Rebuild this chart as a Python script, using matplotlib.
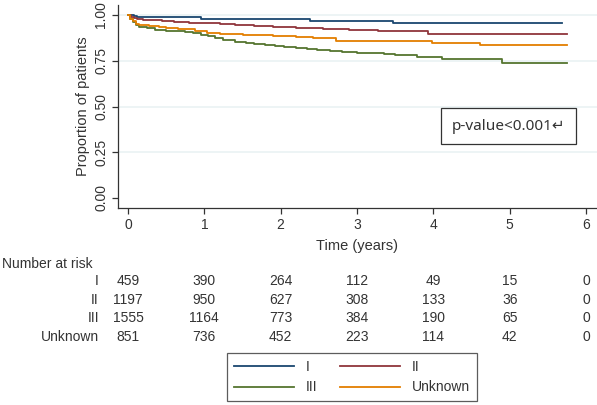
import matplotlib
matplotlib.use("Agg")
import matplotlib.pyplot as plt
import matplotlib.transforms as mtrans

plt.rcParams['font.family'] = ['Liberation Sans', 'DejaVu Sans']

# Kaplan-Meier step curves (time in years, survival)
t_I = [0, 0.08, 0.12, 0.2, 0.95, 1.6, 2.38, 3.47, 5.69]
s_I = [1.0, 0.995, 0.991, 0.989, 0.981, 0.978, 0.969, 0.958, 0.958]

t_II = [0, 0.04, 0.08, 0.12, 0.2, 0.3, 0.45, 0.6, 0.8, 1.0, 1.2, 1.4, 1.65, 1.9, 2.2, 2.55, 2.9, 3.27, 3.93, 5.75]
s_II = [1.0, 0.99, 0.982, 0.977, 0.974, 0.971, 0.967, 0.964, 0.959, 0.955, 0.95, 0.946, 0.941, 0.936, 0.93, 0.923, 0.919, 0.911, 0.896, 0.896]

t_III = [0, 0.03, 0.06, 0.1, 0.15, 0.25, 0.35, 0.5, 0.75, 0.85, 0.95, 1.05, 1.14, 1.25, 1.4, 1.55, 1.65, 1.8, 1.92, 2.05,
         2.2, 2.35, 2.47, 2.65, 2.8, 3.0, 3.17, 3.35, 3.5, 3.78, 4.12, 4.9, 5.75]
s_III = [1.0, 0.98, 0.96, 0.945, 0.935, 0.927, 0.92, 0.915, 0.908, 0.9, 0.892, 0.883, 0.874, 0.864, 0.855, 0.848, 0.842, 0.837, 0.832, 0.826,
         0.82, 0.815, 0.809, 0.804, 0.8, 0.795, 0.79, 0.786, 0.782, 0.772, 0.758, 0.74, 0.74]

t_unk = [0, 0.03, 0.06, 0.1, 0.15, 0.27, 0.4, 0.5, 0.65, 0.88, 1.03, 1.2, 1.5, 1.9, 2.2, 2.42, 2.73, 3.4, 3.98, 4.61, 5.75]
s_unk = [1.0, 0.98, 0.965, 0.952, 0.945, 0.938, 0.933, 0.929, 0.922, 0.913, 0.904, 0.897, 0.891, 0.885, 0.879, 0.872, 0.86, 0.857, 0.849, 0.836, 0.836]

groups = ["I", "II", "III", "Unknown"]
colors = ["#1a476f", "#90353b", "#55752f", "#e37e00"]

risk_times = [0, 1, 2, 3, 4, 5, 6]
risk_I = [459, 390, 264, 112, 49, 15, 0]
risk_II = [1197, 950, 627, 308, 133, 36, 0]
risk_III = [1555, 1164, 773, 384, 190, 65, 0]
risk_unk = [851, 736, 452, 223, 114, 42, 0]

W, H = 597, 405
fig = plt.figure(figsize=(W / 100, H / 100), dpi=100)
ax = fig.add_axes([118 / W, 1 - 208 / H, (W - 118) / W, 203 / H])

ax.set_xlim(-0.131, 6.144)
ax.set_ylim(-0.055, 1.055)

for y in [0.25, 0.5, 0.75, 1.0]:
    ax.axhline(y, color="#eaf2f3", lw=1.2, zorder=0)

curves = [(t_I, s_I), (t_II, s_II), (t_III, s_III), (t_unk, s_unk)]
lines = []
for (t, s), c, g in zip(curves, colors, groups):
    ln, = ax.plot(t, s, drawstyle="steps-post", color=c, lw=1.3, label=g)
    lines.append(ln)

for sp in ["top", "right"]:
    ax.spines[sp].set_visible(False)
for sp in ["left", "bottom"]:
    ax.spines[sp].set_color("#333333")
    ax.spines[sp].set_linewidth(0.9)

ax.set_xticks(risk_times)
ax.set_yticks([0, 0.25, 0.5, 0.75, 1.0])
ax.set_yticklabels(["0.00", "0.25", "0.50", "0.75", "1.00"], rotation=90, va="center")
ax.tick_params(axis="both", length=4, width=0.9, color="#333333", labelsize=10, labelcolor="#333333")
ax.tick_params(axis="y", pad=3)
ax.tick_params(axis="x", pad=3)
ax.set_ylabel("Proportion of patients", fontsize=10.5, color="#333333", labelpad=3)
ax.set_xlabel("Time (years)", fontsize=10.5, color="#333333", labelpad=5)

# p-value box
ax.text(4.99, 0.393, "p-value<0.001\u21b5", fontsize=11, color="#333333",
        ha="center", va="center", family=["Noto Sans", "DejaVu Sans"],
        bbox=dict(boxstyle="square,pad=0.7", fc="white", ec="#333333", lw=0.9))

# number at risk table
tr = mtrans.blended_transform_factory(ax.transData, fig.transFigure)
fig.text(2 / W, 1 - 264 / H, "Number at risk", fontsize=10, color="#333333", va="center")
rows = [risk_I, risk_II, risk_III, risk_unk]
row_y = [281, 300, 318, 337]
for g, r, yy in zip(groups, rows, row_y):
    fig.text(99 / W, 1 - yy / H, g, fontsize=10, color="#333333", ha="right", va="center")
    for t, n in zip(risk_times, r):
        fig.text(t, 1 - yy / H, str(n), transform=tr, fontsize=10, color="#333333",
                 ha="center", va="center")

# legend filled column-wise, so order handles to read I, II / III, Unknown by rows
order = [0, 2, 1, 3]
leg = fig.legend(handles=[lines[i] for i in order], labels=[groups[i] for i in order],
                 ncol=2, loc="center",
                 bbox_to_anchor=(352 / W, 1 - 377 / H), frameon=True, fancybox=False,
                 fontsize=10, handlelength=4.3, columnspacing=1.6, handletextpad=0.9,
                 borderpad=0.5, labelspacing=0.5)
leg.get_frame().set_edgecolor("#333333")
leg.get_frame().set_linewidth(0.9)
for txt in leg.get_texts():
    txt.set_color("#333333")

fig.savefig("out.png", dpi=100)
